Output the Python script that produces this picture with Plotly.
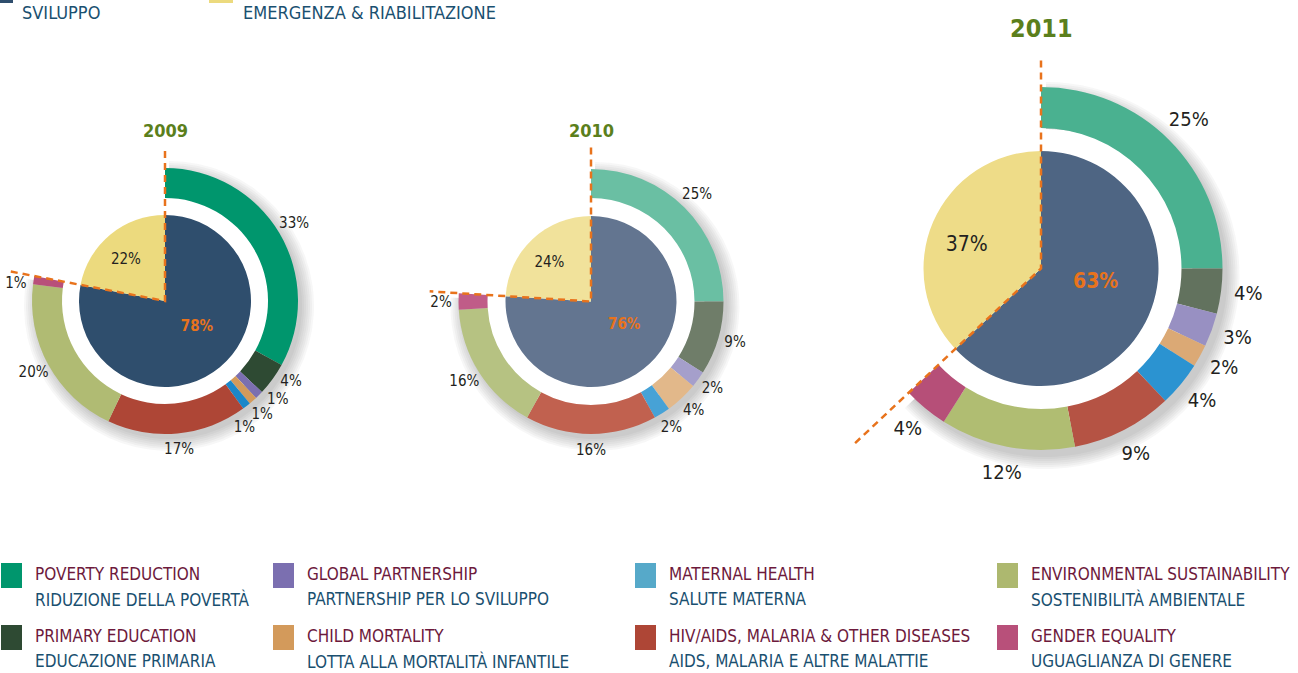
import plotly.graph_objects as go

# ---------------- data ----------------
years = ["2009", "2010", "2011"]
sviluppo = [78, 76, 63]
emergenza = [22, 24, 37]

goals_en = ["POVERTY REDUCTION", "PRIMARY EDUCATION", "GLOBAL PARTNERSHIP", "CHILD MORTALITY",
            "MATERNAL HEALTH", "HIV/AIDS, MALARIA & OTHER DISEASES", "ENVIRONMENTAL SUSTAINABILITY",
            "GENDER EQUALITY"]
goals_it = ["RIDUZIONE DELLA POVERTÀ", "EDUCAZIONE PRIMARIA", "PARTNERSHIP PER LO SVILUPPO",
            "LOTTA ALLA MORTALITÀ INFANTILE", "SALUTE MATERNA", "AIDS, MALARIA E ALTRE MALATTIE",
            "SOSTENIBILITÀ AMBIENTALE", "UGUAGLIANZA DI GENERE"]
breakdown_2009 = [33, 4, 1, 1, 1, 17, 20, 1]
breakdown_2010 = [25, 9, 2, 4, 2, 16, 16, 2]
breakdown_2011 = [25, 4, 3, 2, 4, 9, 12, 4]
breakdowns = [breakdown_2009, breakdown_2010, breakdown_2011]

top_legend = ["SVILUPPO", "EMERGENZA & RIABILITAZIONE"]

# ---------------- style ----------------
W, H = 1298, 673
FONT = "DejaVu Sans Condensed, Liberation Sans Narrow, sans-serif"
ORANGE = "#e8731c"
GREEN_TITLE = "#5b7f1c"
MAROON = "#6d1a3c"
TEAL = "#1a5070"

legend_colors = ["#00966d", "#2e4a33", "#7b6fb0", "#d39a5b", "#56a9c9", "#ae4636", "#adb86f", "#b8507a"]

charts = [
    dict(cx=165, cy=301, R_out=133, R_in=103, R_pie=86, lab_r=150, lab_size=15, big_size=15,
         title_size=18, title_r=171, vert=150, edge=160, shadow=(4, 5),
         ring=["#00966d", "#2e4a33", "#7b6fb0", "#d39a5b", "#1c87c9", "#ae4636", "#b0bb73", "#b8507a"],
         pie=["#2f4e6d", "#ecda7e"]),
    dict(cx=591, cy=301.5, R_out=132.5, R_in=103.5, R_pie=85.5, lab_r=150, lab_size=15, big_size=15,
         title_size=18, title_r=171, vert=154, edge=162, shadow=(4, 5),
         ring=["#6abfa3", "#6f7d69", "#a59fcb", "#e2b88a", "#47a2d6", "#c1614f", "#b6c282", "#c05c88"],
         pie=["#637590", "#f1e29b"]),
    dict(cx=1041, cy=268.5, R_out=181.5, R_in=140.5, R_pie=117.5, lab_r=209, lab_size=20, big_size=21,
         title_size=25, title_r=240, vert=208, edge=256, shadow=(5, 7),
         ring=["#4ab190", "#62725e", "#9890c2", "#dba975", "#2b93d1", "#b55344", "#b0bd72", "#b64f78"],
         pie=["#4e6583", "#eedc88"]),
]


def spread(angles, sep, upper):
    a = list(angles)
    for _ in range(300):
        moved = False
        for i in range(len(a) - 1):
            gap = a[i + 1] - a[i]
            if gap < sep - 1e-6:
                d = (sep - gap) / 2
                a[i] -= d
                a[i + 1] += d
                moved = True
        if not moved:
            break
    # keep labels clear of the dashed boundary line
    return [min(v, upper - sep / 2) for v in a]


def polar_layout(cx, cy, Rmax):
    return dict(
        domain=dict(x=[(cx - Rmax) / W, (cx + Rmax) / W],
                    y=[1 - (cy + Rmax) / H, 1 - (cy - Rmax) / H]),
        bgcolor="rgba(0,0,0,0)",
        radialaxis=dict(range=[0, Rmax], visible=False),
        angularaxis=dict(rotation=90, direction="clockwise", visible=False),
    )


fig = go.Figure()
layout_polars = {}
n = len(years)

# soft drop shadows (drawn first, beneath)
for k, (sv, c) in enumerate(zip(sviluppo, charts)):
    pname = "polar" if k == 0 else f"polar{k + 1}"
    dx, dy = c["shadow"]
    Rs = c["R_out"] + 16
    layout_polars[pname] = polar_layout(c["cx"] + dx, c["cy"] + dy, Rs)
    steps = 7
    fig.add_trace(go.Barpolar(
        r=[c["R_out"] - c["R_in"] - 6 + 2 * j for j in range(steps)],
        base=[c["R_in"] + 6] * steps,
        theta=[sv * 1.8] * steps, width=[sv * 3.6] * steps,
        marker=dict(color="rgba(60,60,60,0.045)", line=dict(width=0)),
        subplot=pname, hoverinfo="skip", showlegend=False))

for k, (yr, sv, em, br, c) in enumerate(zip(years, sviluppo, emergenza, breakdowns, charts)):
    pname = f"polar{k + 1 + n}"
    sub = pname
    Rmax = max(c["vert"], c["edge"], c["lab_r"] + 12)
    layout_polars[pname] = polar_layout(c["cx"], c["cy"], Rmax)

    # inner pie: sviluppo vs emergenza
    shares = [sv, em]
    starts = [0, sv]
    fig.add_trace(go.Barpolar(
        r=[c["R_pie"]] * 2, base=[0, 0],
        theta=[(s + v / 2) * 3.6 for s, v in zip(starts, shares)],
        width=[v * 3.6 for v in shares],
        marker=dict(color=c["pie"], line=dict(width=0)),
        subplot=sub, hoverinfo="skip", showlegend=False))

    # outer ring: breakdown of sviluppo
    cum = []
    acc = 0
    for v in br:
        cum.append(acc)
        acc += v
    mids = [(s + v / 2) * 3.6 for s, v in zip(cum, br)]
    fig.add_trace(go.Barpolar(
        r=[c["R_out"] - c["R_in"]] * len(br), base=[c["R_in"]] * len(br),
        theta=mids, width=[v * 3.6 for v in br],
        marker=dict(color=c["ring"], line=dict(width=0)),
        subplot=sub, hoverinfo="skip", showlegend=False))

    # dashed boundary lines
    fig.add_trace(go.Scatterpolar(
        r=[c["vert"], 0, c["edge"]], theta=[0, 0, sv * 3.6], mode="lines",
        line=dict(color=ORANGE, width=2.5, dash="7px,5px"),
        cliponaxis=False, subplot=sub, hoverinfo="skip", showlegend=False))

    # ring labels
    sep = 22 / c["lab_r"] * 57.2958
    lab_angles = spread(mids, sep, sv * 3.6)
    fig.add_trace(go.Scatterpolar(
        r=[c["lab_r"]] * len(br), theta=lab_angles, mode="text",
        text=[f"{v}%" for v in br],
        textfont=dict(family=FONT, size=c["lab_size"], color="#231f20"),
        cliponaxis=False, subplot=sub, hoverinfo="skip", showlegend=False))

    # pie labels
    fig.add_trace(go.Scatterpolar(
        r=[c["R_pie"] * 0.48], theta=[sv * 0.46 * 3.6], mode="text",
        text=[f"{sv}%"],
        textfont=dict(family=FONT, size=c["big_size"], color=ORANGE, weight="bold"),
        cliponaxis=False, subplot=sub, hoverinfo="skip", showlegend=False))
    fig.add_trace(go.Scatterpolar(
        r=[c["R_pie"] * 0.66], theta=[(sv + em * 0.45) * 3.6], mode="text",
        text=[f"{em}%"],
        textfont=dict(family=FONT, size=c["big_size"], color="#231f20"),
        cliponaxis=False, subplot=sub, hoverinfo="skip", showlegend=False))

annotations = []
shapes = []

# year titles
for yr, c in zip(years, charts):
    annotations.append(dict(
        x=c["cx"] / W, y=1 - (c["cy"] - c["title_r"]) / H, xref="paper", yref="paper",
        text=f"<b>{yr}</b>", showarrow=False, xanchor="center", yanchor="middle",
        font=dict(family=FONT, size=c["title_size"], color=GREEN_TITLE)))

# top legend (cut-off row)
top_items = [(0, 13, 20, "#2f4e6d"), (209, 233, 241, "#ecda7e")]
for (x0, x1, tx, col), label in zip(top_items, top_legend):
    shapes.append(dict(type="rect", xref="paper", yref="paper",
                       x0=x0 / W, x1=x1 / W, y0=1 - 3 / H, y1=1.02,
                       fillcolor=col, line=dict(width=0)))
    annotations.append(dict(x=tx / W, y=1 - 12 / H, xref="paper", yref="paper",
                            text=label, showarrow=False, xanchor="left", yanchor="middle",
                            font=dict(family=FONT, size=18, color=TEAL)))

# bottom legend
col_x = [1, 273, 635, 997]
row_y = [563, 625]
for i, (en, it, col) in enumerate(zip(goals_en, goals_it, legend_colors)):
    cx_ = col_x[i // 2]
    ry = row_y[i % 2]
    shapes.append(dict(type="rect", xref="paper", yref="paper",
                       x0=cx_ / W, x1=(cx_ + 21) / W, y0=1 - (ry + 25) / H, y1=1 - ry / H,
                       fillcolor=col, line=dict(width=0)))
    annotations.append(dict(x=(cx_ + 32) / W, y=1 - (ry + 11) / H, xref="paper", yref="paper",
                            text=en, showarrow=False, xanchor="left", yanchor="middle",
                            font=dict(family=FONT, size=17, color=MAROON)))
    annotations.append(dict(x=(cx_ + 32) / W, y=1 - (ry + 36) / H, xref="paper", yref="paper",
                            text=it, showarrow=False, xanchor="left", yanchor="middle",
                            font=dict(family=FONT, size=17, color=TEAL)))

fig.update_layout(
    width=W, height=H, margin=dict(l=0, r=0, t=0, b=0),
    paper_bgcolor="white", plot_bgcolor="white",
    showlegend=False, annotations=annotations, shapes=shapes,
    **layout_polars,
)

fig.write_html("out.html", config={"displayModeBar": False},
               post_script="document.body.style.margin='0';")
